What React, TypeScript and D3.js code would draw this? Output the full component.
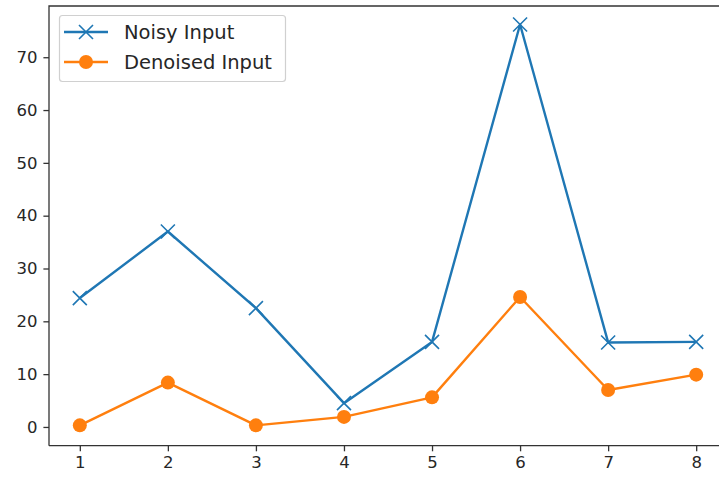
import React, { useEffect, useRef } from 'react';
import * as d3 from 'd3';

const xValues = [1, 2, 3, 4, 5, 6, 7, 8];
const noisyInput = [24.4, 37.0, 22.5, 4.5, 16.1, 76.2, 16.0, 16.1];
const denoisedInput = [0.3, 8.4, 0.3, 1.9, 5.6, 24.6, 7.0, 9.9];
const yTicks = [0, 10, 20, 30, 40, 50, 60, 70];
const seriesNames = ['Noisy Input', 'Denoised Input'];

const W = 719;
const H = 477;
const FONT = '"DejaVu Sans", sans-serif';

export default function App() {
    const svgRef = useRef<SVGSVGElement>(null);

    useEffect(() => {
        const svg = d3.select(svgRef.current);
        svg.selectAll('*').remove();

        const left = 49;
        const top = 6;
        const bottom = 445.7;
        const right = 727;

        const x = d3.scaleLinear().domain([0.65, 8.35]).range([left, right]);
        const y = d3.scaleLinear().domain([-3.55, 79.7]).range([bottom, top]);

        const g = svg.append('g');

        // data lines
        const line = d3.line<number>()
            .x((_, i) => x(xValues[i]))
            .y(d => y(d));

        g.append('path')
            .datum(noisyInput)
            .attr('d', line)
            .attr('fill', 'none')
            .attr('stroke', '#1f77b4')
            .attr('stroke-width', 2.4)
            .attr('stroke-linejoin', 'round');

        const s = 7;
        g.selectAll('.xm')
            .data(noisyInput)
            .enter()
            .append('path')
            .attr('d', (d, i) => {
                const cx = x(xValues[i]);
                const cy = y(d);
                return `M${cx - s},${cy - s}L${cx + s},${cy + s}M${cx - s},${cy + s}L${cx + s},${cy - s}`;
            })
            .attr('stroke', '#1f77b4')
            .attr('stroke-width', 1.6);

        g.append('path')
            .datum(denoisedInput)
            .attr('d', line)
            .attr('fill', 'none')
            .attr('stroke', '#ff7f0e')
            .attr('stroke-width', 2.4)
            .attr('stroke-linejoin', 'round');

        g.selectAll('.dot')
            .data(denoisedInput)
            .enter()
            .append('circle')
            .attr('cx', (_, i) => x(xValues[i]))
            .attr('cy', d => y(d))
            .attr('r', 7)
            .attr('fill', '#ff7f0e');

        // spines
        g.append('path')
            .attr('d', `M${left},${bottom}V${top}H${right}M${left},${bottom}H${right}`)
            .attr('fill', 'none')
            .attr('stroke', '#333')
            .attr('stroke-width', 1.3);

        // x axis
        const xAxis = g.append('g')
            .attr('transform', `translate(0,${bottom})`)
            .call(d3.axisBottom(x).tickValues(xValues).tickSize(5.6).tickPadding(5).tickSizeOuter(0));
        xAxis.select('.domain').remove();
        xAxis.selectAll('line').attr('stroke', '#333').attr('stroke-width', 1.3);
        xAxis.selectAll('text')
            .attr('fill', '#262626')
            .style('font-family', FONT)
            .style('font-size', '16.5px');

        // y axis
        const yAxis = g.append('g')
            .attr('transform', `translate(${left},0)`)
            .call(d3.axisLeft(y).tickValues(yTicks).tickSize(5.6).tickPadding(6).tickSizeOuter(0));
        yAxis.select('.domain').remove();
        yAxis.selectAll('line').attr('stroke', '#333').attr('stroke-width', 1.3);
        yAxis.selectAll('text')
            .attr('fill', '#262626')
            .style('font-family', FONT)
            .style('font-size', '16.5px');

        // legend
        const leg = g.append('g');
        leg.append('rect')
            .attr('x', 59.5)
            .attr('y', 15.5)
            .attr('width', 226)
            .attr('height', 66)
            .attr('rx', 3)
            .attr('fill', 'white')
            .attr('fill-opacity', 0.8)
            .attr('stroke', '#d0d0d0')
            .attr('stroke-width', 1.2);

        const colors = ['#1f77b4', '#ff7f0e'];
        seriesNames.forEach((name, i) => {
            const ly = 32 + i * 30;
            leg.append('line')
                .attr('x1', 64).attr('x2', 108)
                .attr('y1', ly).attr('y2', ly)
                .attr('stroke', colors[i])
                .attr('stroke-width', 2.4);
            if (i === 0) {
                const cx = 86;
                leg.append('path')
                    .attr('d', `M${cx - s},${ly - s}L${cx + s},${ly + s}M${cx - s},${ly + s}L${cx + s},${ly - s}`)
                    .attr('stroke', colors[i])
                    .attr('stroke-width', 1.6);
            } else {
                leg.append('circle')
                    .attr('cx', 86).attr('cy', ly).attr('r', 7)
                    .attr('fill', colors[i]);
            }
            leg.append('text')
                .attr('x', 124)
                .attr('y', ly + 7)
                .attr('fill', '#262626')
                .style('font-family', FONT)
                .style('font-size', '19.5px')
                .text(name);
        });
    }, []);

    return (
        <svg ref={svgRef} width={W} height={H}
            style={{ position: 'absolute', left: 0, top: 0, background: 'white' }} />
    );
}
